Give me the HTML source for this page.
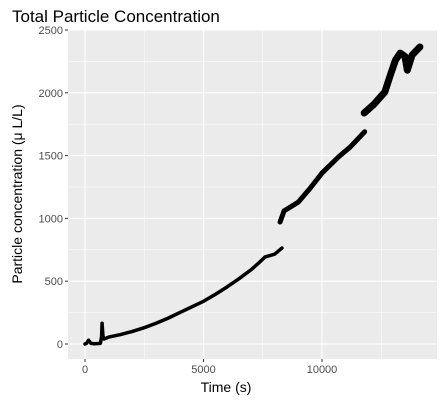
<!DOCTYPE html>
<html><head><meta charset="utf-8"><style>
body{margin:0;background:#fff;font-family:"Liberation Sans",sans-serif}
</style></head><body>
<svg id="c" width="444" height="403" xmlns="http://www.w3.org/2000/svg">
<text x="12" y="22" font-size="17" fill="#000">Total Particle Concentration</text>
<rect x="68" y="30" width="369" height="329" fill="#ebebeb"/>
<g id="grid"></g><g id="marks"></g><g id="axes"></g>
<text x="226" y="392" font-size="14" text-anchor="middle">Time (s)</text>
<text transform="translate(22,194) rotate(-90)" font-size="14" text-anchor="middle">Particle concentration (μ L/L)</text>
</svg>
<script>
const xTicks=[0,5000,10000];
const yTicks=[0,500,1000,1500,2000,2500];
const seg1T=[0,60,150,250,400,650,700,720,760,800,1000,1500,2000,2500,3000,3500,4000,4500,5000,5500,6000,6500,7000,7300,7600,8000,8310];
const seg1V=[0,5,30,5,2,5,60,165,60,40,55,75,100,130,165,205,250,295,340,395,455,520,590,640,693,715,764];
const seg2T=[8230,8400,8600,9000,9500,10000,10700,11200,11800];
const seg2V=[971,1060,1083,1130,1240,1361,1490,1570,1690];
const seg3T=[11780,12200,12650,12900,13100,13300,13500,13600,13800,14130];
const seg3V=[1839,1910,2006,2150,2260,2316,2290,2180,2300,2365];
const X=t=>85+t*(322-85)/10000;
const Y=v=>344-v*(344-30)/2500;
const NS="http://www.w3.org/2000/svg";
function mk(tag,attrs,parent){const e=document.createElementNS(NS,tag);for(const k in attrs)e.setAttribute(k,attrs[k]);document.getElementById(parent).appendChild(e);return e;}
for(let t=-2500;t<=15000;t+=2500){const x=X(t);if(x<68||x>437)continue;
 const l=mk('line',{x1:x,x2:x,y1:30,y2:359,stroke:'#fff','stroke-width':t%5000===0?1.1:0.5},'grid');
 
 }
for(let v=0;v<=2500;v+=250){const y=Y(v);
 const l=mk('line',{x1:68,x2:437,y1:y,y2:y,stroke:'#fff','stroke-width':v%500===0?1.1:0.5},'grid');
 
 }
xTicks.forEach(t=>{const x=X(t);
 const tk=mk('line',{x1:x,x2:x,y1:359,y2:362,stroke:'#333'},'axes');
 
 
 const tx=mk('text',{x:x,y:373,'font-size':11,fill:'#4d4d4d','text-anchor':'middle'},'axes');tx.textContent=t;
 
 });
yTicks.forEach(v=>{const y=Y(v);
 const tk=mk('line',{x1:65,x2:68,y1:y,y2:y,stroke:'#333'},'axes');
 
 
 const tx=mk('text',{x:63,y:y+4,'font-size':11,fill:'#4d4d4d','text-anchor':'end'},'axes');tx.textContent=v;
 
 });
[[seg1T,seg1V,3.5],[seg2T,seg2V,5],[seg3T,seg3V,7]].forEach((s,i)=>{
 const pts=s[0].map((t,j)=>X(t)+','+Y(s[1][j])).join(' ');
 const p=mk('polyline',{points:pts,fill:'none',stroke:'#000','stroke-width':s[2],'stroke-linejoin':'round','stroke-linecap':'round'},'marks');
 
 });
</script>
</body></html>
